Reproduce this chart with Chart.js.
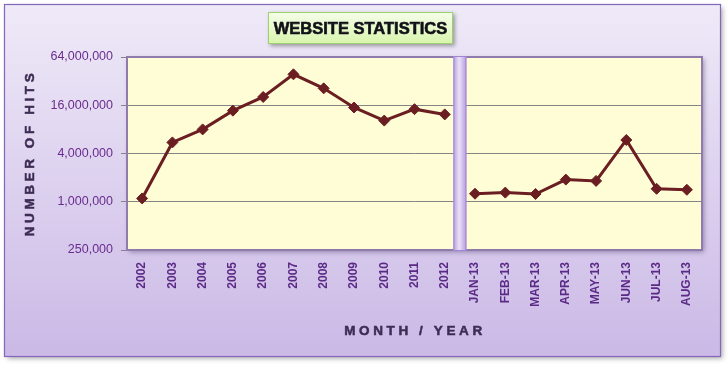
<!DOCTYPE html>
<html><head><meta charset="utf-8">
<script src="https://cdn.jsdelivr.net/npm/chart.js@4"></script>
<style>html,body{margin:0;padding:0;background:#fff;}#wrap{width:728px;height:366px;}</style>
</head><body><div id="wrap"><canvas id="c" width="728" height="366"></canvas></div>
<script>
const categories = ['2002','2003','2004','2005','2006','2007','2008','2009','2010','2011','2012',
  'JAN-13','FEB-13','MAR-13','APR-13','MAY-13','JUN-13','JUL-13','AUG-13'];
const yearlyHits = [1100000, 5500000, 8000000, 13700000, 20300000, 38900000, 26000000, 15000000, 10300000, 14300000, 12300000];
const monthlyHits = [1260000, 1300000, 1250000, 1890000, 1820000, 5900000, 1450000, 1410000];
const yTicks = [250000, 1000000, 4000000, 16000000, 64000000];
const chartTitle = 'WEBSITE STATISTICS';
const yTitle = 'NUMBER OF HITS';
const xTitle = 'MONTH / YEAR';

const nYears = yearlyHits.length;
const yearlySeries = categories.map((c,i)=> i < nYears ? yearlyHits[i] : null);
const monthlySeries = categories.map((c,i)=> i >= nYears ? monthlyHits[i-nYears] : null);

const deco = {
  id:'deco',
  beforeDraw(chart){
    const ctx = chart.ctx, a = chart.chartArea;
    ctx.save();
    ctx.fillStyle='#fff'; ctx.fillRect(0,0,728,366);
    ctx.shadowColor='rgba(0,0,0,0.35)'; ctx.shadowBlur=5; ctx.shadowOffsetX=2; ctx.shadowOffsetY=2;
    const g = ctx.createLinearGradient(0,4,0,357);
    g.addColorStop(0,'#efeaf8'); g.addColorStop(1,'#cbb9e6');
    ctx.fillStyle=g; ctx.fillRect(4.5,4.5,716,352);
    ctx.shadowColor='transparent';
    ctx.strokeStyle='#8466bb'; ctx.lineWidth=1.2; ctx.strokeRect(4.5,4.5,716,352);
    ctx.shadowColor='rgba(60,40,90,0.45)'; ctx.shadowBlur=5; ctx.shadowOffsetX=2; ctx.shadowOffsetY=2;
    ctx.fillStyle='#fffdd6'; ctx.fillRect(a.left,a.top,a.right-a.left,a.bottom-a.top);
    ctx.shadowColor='transparent';
    const bx=268,by=12,bw=185,bh=32;
    ctx.shadowColor='rgba(0,0,0,0.35)'; ctx.shadowBlur=4; ctx.shadowOffsetX=2; ctx.shadowOffsetY=2;
    const tg = ctx.createLinearGradient(0,by,0,by+bh);
    tg.addColorStop(0,'#f6feea'); tg.addColorStop(1,'#d8f5ad');
    ctx.fillStyle=tg; ctx.fillRect(bx,by,bw,bh);
    ctx.shadowColor='transparent';
    ctx.strokeStyle='#9dd16c'; ctx.lineWidth=1; ctx.strokeRect(bx+0.5,by+0.5,bw-1,bh-1);
    ctx.fillStyle='#111118'; ctx.strokeStyle='#111118'; ctx.lineWidth=0.6;
    ctx.font='bold 16.5px "Liberation Sans", Arial, sans-serif';
    ctx.textAlign='center'; ctx.textBaseline='middle';
    ctx.fillText(chartTitle, bx+bw/2, by+bh/2+1);
    ctx.strokeText(chartTitle, bx+bw/2, by+bh/2+1);
    ctx.restore();
  },
  beforeDatasetsDraw(chart){
    const ctx = chart.ctx, a = chart.chartArea, x = chart.scales.x;
    ctx.save();
    ctx.strokeStyle='#8f7cad'; ctx.lineWidth=2;
    ctx.strokeRect(a.left,a.top,a.right-a.left,a.bottom-a.top);
    const sx = (x.getPixelForValue(nYears-1)+x.getPixelForValue(nYears))/2;
    const w = 13;
    const sg = ctx.createLinearGradient(sx-w/2,0,sx+w/2,0);
    sg.addColorStop(0,'#b79ee0'); sg.addColorStop(0.45,'#e9e1f7'); sg.addColorStop(1,'#b59be0');
    ctx.fillStyle=sg; ctx.fillRect(sx-w/2,a.top-1,w,a.bottom-a.top+2);
    ctx.strokeStyle='#a184d2'; ctx.lineWidth=1; ctx.strokeRect(sx-w/2+0.5,a.top-0.5,w-1,a.bottom-a.top+1);
    ctx.restore();
  },
  afterDraw(chart){
    const ctx = chart.ctx;
    ctx.save();
    ctx.fillStyle='#3e2c55'; ctx.strokeStyle='#3e2c55'; ctx.lineWidth=0.5;
    ctx.font='bold 13.5px "Liberation Sans", Arial, sans-serif';
    ctx.textAlign='center'; ctx.textBaseline='middle';
    ctx.letterSpacing='3.6px';
    ctx.translate(30,155); ctx.rotate(-Math.PI/2);
    ctx.fillText(yTitle, 2, 0); ctx.strokeText(yTitle, 2, 0);
    ctx.setTransform(1,0,0,1,0,0);
    ctx.fillText(xTitle, 415, 331); ctx.strokeText(xTitle, 415, 331);
    ctx.restore();
  }
};

const ds = (data)=>({
  data, borderColor:'#6b1e22', backgroundColor:'#6b1e22', borderWidth:3,
  pointStyle:'rectRot', pointRadius:5.5, pointHoverRadius:5.5, pointBorderWidth:1,
  tension:0, spanGaps:false
});

new Chart(document.getElementById('c'), {
  type:'line',
  data:{ labels:categories, datasets:[ds(yearlySeries), ds(monthlySeries)] },
  options:{
    responsive:false, animation:false,
    layout:{ padding:{ top:57, right:26, left:0, bottom:0 } },
    plugins:{ legend:{display:false}, title:{display:false}, tooltip:{enabled:false} },
    scales:{
      x:{
        type:'category', offset:true,
        grid:{ display:false, drawTicks:false },
        border:{ display:false },
        ticks:{ autoSkip:false, minRotation:90, maxRotation:90, padding:12,
          color:'#5b2a86', font:{ family:'"Liberation Sans", Arial, sans-serif', size:12, weight:'bold' } },
        afterFit(s){ s.height = 116; }
      },
      y:{
        type:'logarithmic', min:250000, max:64000000,
        afterBuildTicks(s){ s.ticks = yTicks.map(v=>({value:v})); },
        grid:{ color:'#858585', lineWidth:1, drawTicks:true, tickLength:6, tickColor:'#858585' },
        border:{ display:false },
        ticks:{ padding:8, color:'#6a2c8e',
          font:{ family:'"Liberation Sans", Arial, sans-serif', size:12.5 },
          callback:(v)=> Number(v).toLocaleString('en-US') },
        afterFit(s){ s.width = 127; }
      }
    }
  },
  plugins:[deco]
});
</script></body></html>
